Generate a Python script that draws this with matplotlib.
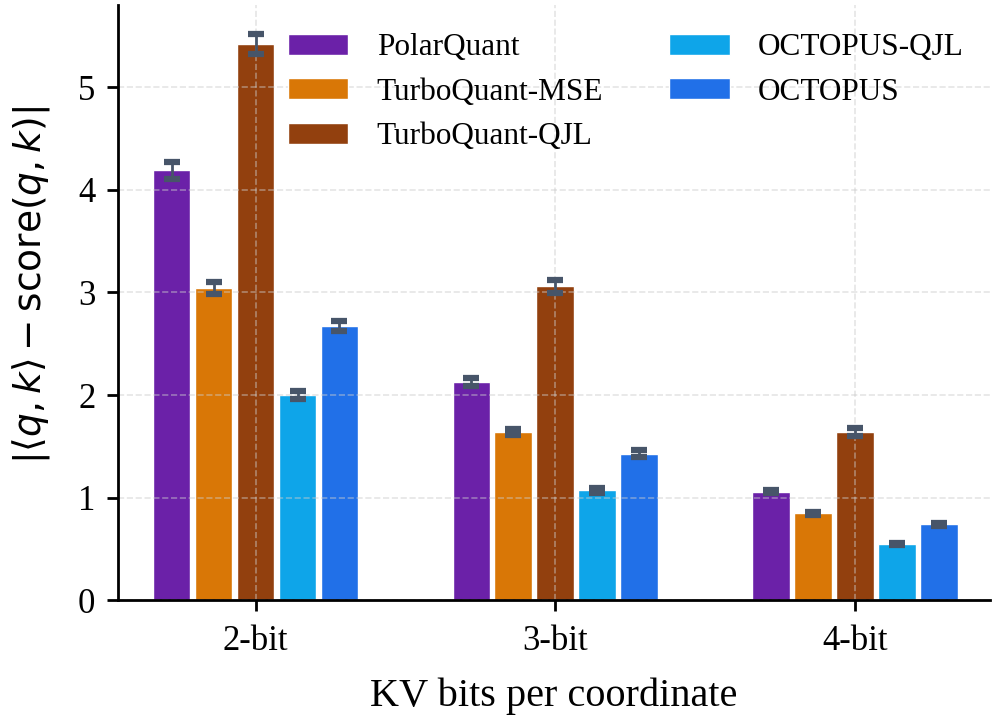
import numpy as np
from matplotlib import pyplot as plt

plt.rcParams["font.family"] = "Liberation Serif"
plt.rcParams["mathtext.fontset"] = "dejavusans"

groups = ["2-bit", "3-bit", "4-bit"]
methods = ["PolarQuant", "TurboQuant-MSE", "TurboQuant-QJL", "OCTOPUS-QJL", "OCTOPUS"]
colors = ["#6B21A8", "#D97706", "#92400E", "#0EA5E9", "#2170E8"]

polar = [4.19, 2.13, 1.06]
turbo_mse = [3.04, 1.64, 0.85]
turbo_qjl = [5.42, 3.06, 1.64]
octopus_qjl = [2.00, 1.07, 0.55]
octopus = [2.67, 1.43, 0.74]

polar_err = [0.08, 0.04, 0.015]
turbo_mse_err = [0.06, 0.03, 0.015]
turbo_qjl_err = [0.10, 0.065, 0.04]
octopus_qjl_err = [0.04, 0.02, 0.01]
octopus_err = [0.05, 0.03, 0.015]

values = [polar, turbo_mse, turbo_qjl, octopus_qjl, octopus]
errors = [polar_err, turbo_mse_err, turbo_qjl_err, octopus_qjl_err, octopus_err]

fig, ax = plt.subplots(figsize=(9.97, 7.25), dpi=100)
x = np.arange(len(groups))
slot = 0.14
for i, (name, vals, errs) in enumerate(zip(methods, values, errors)):
    ax.bar(x + (i - 2) * slot, vals, width=slot * 0.9, color=colors[i],
           edgecolor="white", linewidth=1, label=name,
           yerr=errs, capsize=6,
           error_kw={"ecolor": "#475569", "elinewidth": 2, "capthick": 4.5})

ax.set_xticks(x)
ax.set_xticklabels(groups, fontsize=25)
ax.set_xlim(-0.46, 2.45)
ax.set_ylim(0, 5.8)
ax.set_yticks(range(6))
ax.tick_params(axis="y", labelsize=25, width=2, length=8, pad=8)
ax.tick_params(axis="x", width=2, length=8, pad=10)
ax.grid(True, ls="--", color="#cccccc", alpha=0.5, lw=1.2)
for s in ["top", "right"]:
    ax.spines[s].set_visible(False)
for s in ["left", "bottom"]:
    ax.spines[s].set_linewidth(2)

ax.set_xlabel("KV bits per coordinate", fontsize=29, labelpad=14)
ax.set_ylabel(r"$|\langle q, k\rangle - \mathrm{score}(q, k)|$", fontsize=27)
ax.yaxis.set_label_coords(-0.075, 0.53)
ax.legend(ncol=2, frameon=False, fontsize=22.5, loc="upper right",
          bbox_to_anchor=(1.002, 1.0), handlelength=1.95, handleheight=0.65,
          labelspacing=0.5, columnspacing=2.1, handletextpad=0.9)

plt.subplots_adjust(left=0.118, right=0.993, top=0.993, bottom=0.172)
plt.savefig("out.png", dpi=100)
